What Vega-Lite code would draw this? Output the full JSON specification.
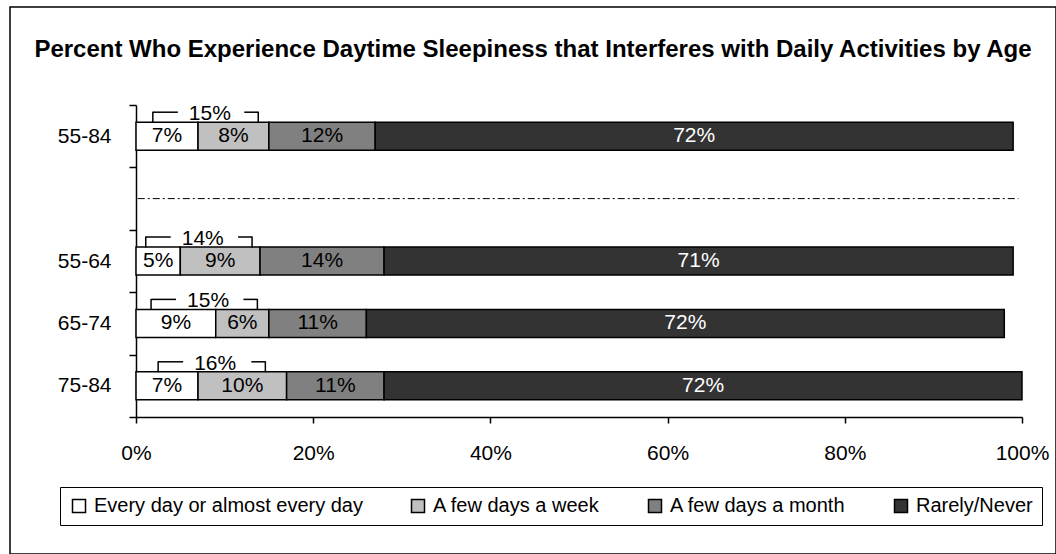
{
  "$schema": "https://vega.github.io/schema/vega-lite/v6.json",
  "width": 1046,
  "height": 547,
  "autosize": {"type": "none"},
  "padding": {"left": 10, "top": 7, "right": 0, "bottom": 0},
  "background": "white",
  "title": {
    "text": "Percent Who Experience Daytime Sleepiness that Interferes with Daily Activities by Age",
    "font": "Liberation Sans",
    "fontSize": 24,
    "fontWeight": "bold",
    "color": "black",
    "anchor": "middle",
    "offset": -85,
    "baseline": "alphabetic"
  },
  "config": {
    "font": "Liberation Sans",
    "view": {"stroke": "black", "strokeWidth": 1.5},
    "axis": {
      "labelFont": "Liberation Sans",
      "labelFontSize": 21,
      "labelColor": "black",
      "domainColor": "black",
      "domainWidth": 1.5,
      "tickColor": "black",
      "tickWidth": 1.5,
      "grid": false
    }
  },
  "datasets": {
    "bars": [
      {"age": "55-84", "resp": "Every day or almost every day", "k": 1, "pct": 7},
      {"age": "55-84", "resp": "A few days a week", "k": 2, "pct": 8},
      {"age": "55-84", "resp": "A few days a month", "k": 3, "pct": 12},
      {"age": "55-84", "resp": "Rarely/Never", "k": 4, "pct": 72},
      {"age": "55-64", "resp": "Every day or almost every day", "k": 1, "pct": 5},
      {"age": "55-64", "resp": "A few days a week", "k": 2, "pct": 9},
      {"age": "55-64", "resp": "A few days a month", "k": 3, "pct": 14},
      {"age": "55-64", "resp": "Rarely/Never", "k": 4, "pct": 71},
      {"age": "65-74", "resp": "Every day or almost every day", "k": 1, "pct": 9},
      {"age": "65-74", "resp": "A few days a week", "k": 2, "pct": 6},
      {"age": "65-74", "resp": "A few days a month", "k": 3, "pct": 11},
      {"age": "65-74", "resp": "Rarely/Never", "k": 4, "pct": 72},
      {"age": "75-84", "resp": "Every day or almost every day", "k": 1, "pct": 7},
      {"age": "75-84", "resp": "A few days a week", "k": 2, "pct": 10},
      {"age": "75-84", "resp": "A few days a month", "k": 3, "pct": 11},
      {"age": "75-84", "resp": "Rarely/Never", "k": 4, "pct": 72}
    ],
    "brackets": [
      {"age": "55-84", "total": 15, "lo": 1.9, "hi": 13.8},
      {"age": "55-64", "total": 14, "lo": 1.1, "hi": 13.1},
      {"age": "65-74", "total": 15, "lo": 1.7, "hi": 13.7},
      {"age": "75-84", "total": 16, "lo": 2.5, "hi": 14.6}
    ],
    "divider": [{"age": "gap", "from": 0.2, "to": 99.6}]
  },
  "layer": [
    {
      "data": {"name": "bars"},
      "mark": {"type": "bar", "height": 28, "stroke": "black", "strokeWidth": 1.5},
      "encoding": {
        "y": {
          "field": "age",
          "type": "nominal",
          "title": null,
          "scale": {
            "domain": ["55-84", "gap", "55-64", "65-74", "75-84"],
            "range": [98, 410],
            "paddingInner": 0,
            "paddingOuter": 0
          },
          "axis": {
            "offset": -126,
            "tickBand": "extent",
            "tickSize": 7,
            "labelPadding": 18,
            "labelExpr": "datum.value === 'gap' ? '' : datum.value"
          }
        },
        "x": {
          "field": "pct",
          "type": "quantitative",
          "stack": "zero",
          "title": null,
          "scale": {"domain": [0, 100], "range": [126, 1012], "nice": false},
          "axis": {
            "offset": -137,
            "values": [0, 20, 40, 60, 80, 100],
            "tickSize": 6,
            "labelPadding": 19,
            "labelFlush": false,
            "labelExpr": "datum.value + '%'"
          }
        },
        "color": {
          "field": "resp",
          "type": "nominal",
          "scale": {
            "domain": ["Every day or almost every day", "A few days a week", "A few days a month", "Rarely/Never"],
            "range": ["#FFFFFF", "#C0C0C0", "#808080", "#333333"]
          },
          "legend": {
            "title": null,
            "orient": "none",
            "legendX": 50,
            "legendY": 480,
            "direction": "horizontal",
            "columns": 4,
            "labelFont": "Liberation Sans",
            "labelFontSize": 20,
            "labelColor": "black",
            "labelLimit": 600,
            "labelOffset": 5,
            "columnPadding": 45,
            "symbolType": "square",
            "symbolSize": 169,
            "symbolStrokeColor": "black",
            "symbolStrokeWidth": 1.5,
            "strokeColor": "black",
            "padding": 9
          }
        },
        "order": {"field": "k", "type": "quantitative"}
      }
    },
    {
      "data": {"name": "bars"},
      "mark": {
        "type": "text",
        "fontSize": 21,
        "baseline": "middle",
        "align": "center",
        "text": {"expr": "datum.pct + '%'"}
      },
      "encoding": {
        "y": {"field": "age", "type": "nominal", "title": null},
        "x": {"field": "pct", "type": "quantitative", "stack": "zero", "bandPosition": 0.5, "title": null},
        "order": {"field": "k", "type": "quantitative"},
        "color": {
          "condition": {"test": "datum.resp === 'Rarely/Never'", "value": "white"},
          "value": "black"
        }
      }
    },
    {
      "data": {"name": "divider"},
      "mark": {"type": "rule", "color": "black", "strokeWidth": 1, "strokeDash": [7, 3, 2, 3]},
      "encoding": {
        "y": {"field": "age", "type": "nominal", "title": null},
        "x": {"field": "from", "type": "quantitative", "title": null},
        "x2": {"field": "to"}
      }
    },
    {
      "data": {"name": "brackets"},
      "mark": {"type": "rule", "color": "black", "strokeWidth": 1.5, "x2Offset": 25, "yOffset": -24},
      "encoding": {
        "y": {"field": "age", "type": "nominal", "title": null},
        "x": {"field": "lo", "type": "quantitative", "title": null},
        "x2": {"field": "lo"}
      }
    },
    {
      "data": {"name": "brackets"},
      "mark": {"type": "rule", "color": "black", "strokeWidth": 1.5, "xOffset": -14, "yOffset": -24},
      "encoding": {
        "y": {"field": "age", "type": "nominal", "title": null},
        "x": {"field": "hi", "type": "quantitative", "title": null},
        "x2": {"field": "hi"}
      }
    },
    {
      "data": {"name": "brackets"},
      "mark": {"type": "tick", "orient": "vertical", "color": "black", "opacity": 1, "size": 11, "thickness": 1.5, "yOffset": -19},
      "encoding": {
        "y": {"field": "age", "type": "nominal", "title": null},
        "x": {"field": "lo", "type": "quantitative", "title": null}
      }
    },
    {
      "data": {"name": "brackets"},
      "mark": {"type": "tick", "orient": "vertical", "color": "black", "opacity": 1, "size": 11, "thickness": 1.5, "yOffset": -19},
      "encoding": {
        "y": {"field": "age", "type": "nominal", "title": null},
        "x": {"field": "hi", "type": "quantitative", "title": null}
      }
    },
    {
      "data": {"name": "brackets"},
      "mark": {
        "type": "text",
        "fontSize": 21,
        "color": "black",
        "align": "center",
        "baseline": "alphabetic",
        "dx": 57,
        "dy": -16,
        "text": {"expr": "datum.total + '%'"}
      },
      "encoding": {
        "y": {"field": "age", "type": "nominal", "title": null},
        "x": {"field": "lo", "type": "quantitative", "title": null}
      }
    }
  ]
}
